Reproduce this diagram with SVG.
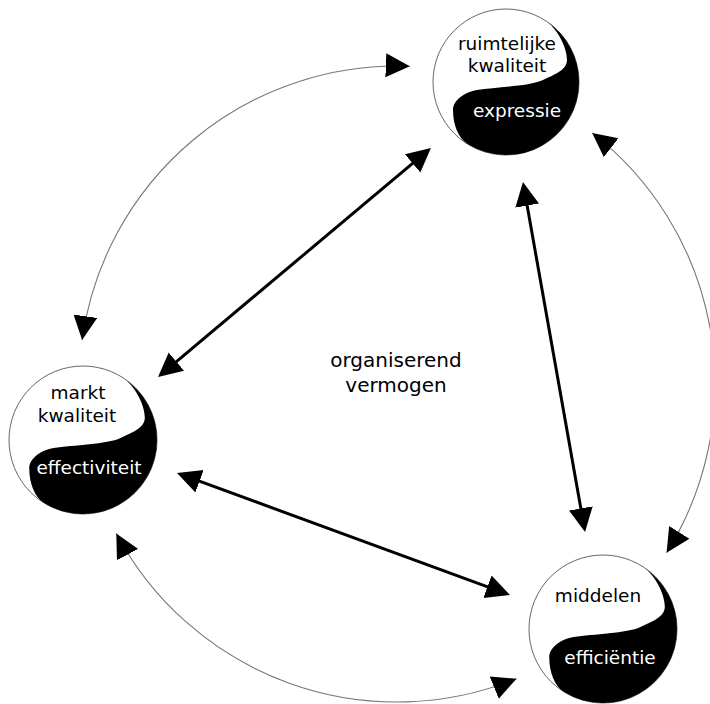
<svg xmlns="http://www.w3.org/2000/svg" width="710" height="704" viewBox="0 0 710 704">
  <style>
    .lbl { font-family: "DejaVu Sans", Verdana, sans-serif; font-size: 18.5px; text-anchor: middle; }
    .dark { fill: #000; }
    .light { fill: #fff; }
    .mid { font-family: "DejaVu Sans", Verdana, sans-serif; font-size: 20px; text-anchor: middle; fill: #000; }
    .ring { fill: #fff; stroke: #666; stroke-width: 1; }
    .yin { fill: #000; }
    .thin { fill: none; stroke: #777; stroke-width: 1.1; marker-start: url(#head); marker-end: url(#head); }
    .thick { fill: none; stroke: #000; stroke-width: 3; marker-start: url(#headOff); marker-end: url(#headOff); }
  </style>
  <defs>
    <!-- arrowhead whose tip sits on the path end -->
    <marker id="head" markerUnits="userSpaceOnUse" markerWidth="26" markerHeight="26" refX="24" refY="12" orient="auto-start-reverse" viewBox="0 0 26 26">
      <path d="M0,0 L24,12 L0,24 Z" fill="#000"/>
    </marker>
    <!-- arrowhead whose tip lies 10px beyond the path end (thick shafts) -->
    <marker id="headOff" markerUnits="userSpaceOnUse" markerWidth="36" markerHeight="26" refX="14" refY="12" orient="auto-start-reverse" viewBox="0 0 36 26">
      <path d="M0,0 L24,12 L0,24 Z" fill="#000"/>
    </marker>
    <!-- dark half of the swirl disc, drawn for radius 73 around the origin -->
    <path id="yinyang" class="yin" d="M40,-61 A73,73 0 0 1 73,0 A73,73 0 0 1 -38,62.3 C-48.2,56 -53,42 -53,28 C-53,18 -40.8,9.9 -29,8 C-9.3,4.8 23.4,4.4 37,-2 C47.9,-7.1 61,-12 61,-22 C61,-36 50,-54.4 40,-61 Z"/>
  </defs>

  <!-- connectors -->
  <g id="connectors">
    <!-- outer ring of curved links, centre (397,384), r 318 -->
    <path class="thin" d="M409.8,66.3 A318,318 0 0 0 82.1,340"/>
    <path class="thin" d="M592.2,132.9 A318,318 0 0 1 666.6,552.7"/>
    <path class="thin" d="M516.5,678.7 A318,318 0 0 1 116.3,533.4"/>
    <!-- straight links -->
    <path class="thick" d="M423.3,154.4 L165.7,370.6"/>
    <path class="thick" d="M524.7,191.8 L583.3,522.2"/>
    <path class="thick" d="M186.4,476.4 L500.6,591.6"/>
  </g>

  <!-- node: spatial quality -->
  <g id="node-ruimtelijke-kwaliteit">
    <circle class="ring" cx="506" cy="82" r="73"/>
    <use href="#yinyang" transform="translate(506,82)"/>
    <text class="lbl dark" x="507" y="50">ruimtelijke</text>
    <text class="lbl dark" x="507" y="72">kwaliteit</text>
    <text class="lbl light" x="517" y="117">expressie</text>
  </g>

  <!-- node: market quality -->
  <g id="node-markt-kwaliteit">
    <circle class="ring" cx="83" cy="440" r="74"/>
    <use href="#yinyang" transform="translate(83,440) scale(1.0137)"/>
    <text class="lbl dark" x="78" y="399">markt</text>
    <text class="lbl dark" x="77" y="422">kwaliteit</text>
    <text class="lbl light" x="89" y="474">effectiviteit</text>
  </g>

  <!-- node: means -->
  <g id="node-middelen">
    <circle class="ring" cx="603" cy="629" r="74"/>
    <use href="#yinyang" transform="translate(603,629) scale(1.0137)"/>
    <text class="lbl dark" x="598" y="602">middelen</text>
    <text class="lbl light" x="610" y="664">efficiëntie</text>
  </g>

  <!-- centre label -->
  <g id="centre-label">
    <text class="mid" x="396" y="367">organiserend</text>
    <text class="mid" x="396" y="392">vermogen</text>
  </g>
</svg>
